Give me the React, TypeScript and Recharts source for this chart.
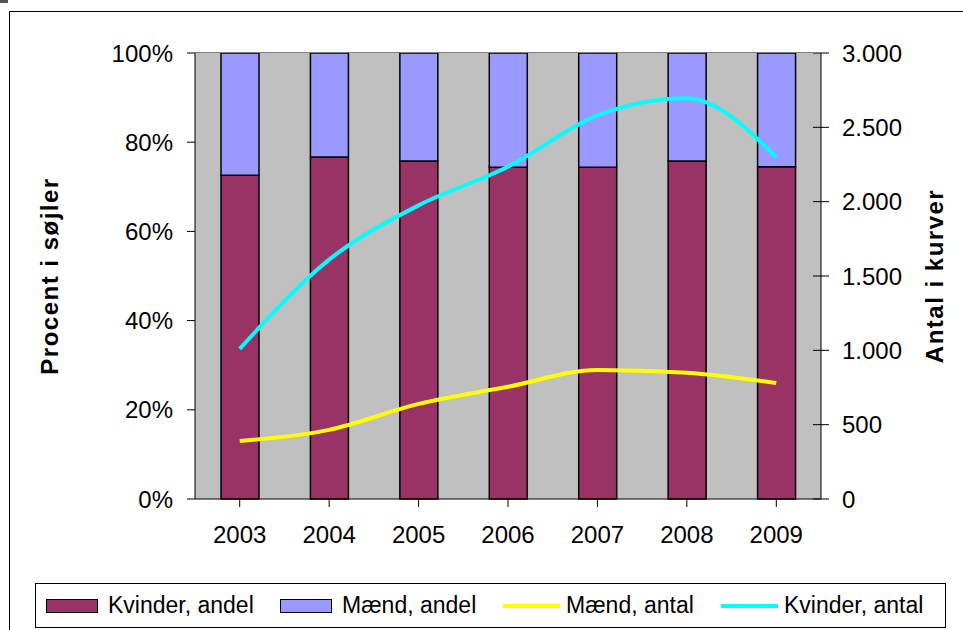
import { Bar, CartesianGrid, ComposedChart, Line, XAxis, YAxis } from "recharts";

const YEARS = ["2003", "2004", "2005", "2006", "2007", "2008", "2009"];
const KVINDER_ANDEL = [72.6, 76.7, 75.8, 74.4, 74.4, 75.8, 74.5];
const MAEND_ANDEL = [27.4, 23.3, 24.2, 25.6, 25.6, 24.2, 25.5];
const MAEND_ANTAL = [390, 465, 640, 755, 868, 850, 780];
const KVINDER_ANTAL = [1010, 1610, 1975, 2235, 2580, 2695, 2300];
const PCT_TICKS = [0, 20, 40, 60, 80, 100];
const ANTAL_TICKS = [0, 500, 1000, 1500, 2000, 2500, 3000];

const FONT = "'Liberation Sans', Arial, sans-serif";
const MAROON = "#993366";
const LAVENDER = "#9999FF";
const YELLOW = "#FFFF00";
const CYAN = "#00FFFF";

const data = YEARS.map((year, i) => ({
  year,
  kvAndel: KVINDER_ANDEL[i],
  mdAndel: MAEND_ANDEL[i],
  mdAntal: MAEND_ANTAL[i],
  kvAntal: KVINDER_ANTAL[i],
}));

const legendItems = [
  { label: "Kvinder, andel", color: MAROON, kind: "bar" },
  { label: "Mænd, andel", color: LAVENDER, kind: "bar" },
  { label: "Mænd, antal", color: YELLOW, kind: "line" },
  { label: "Kvinder, antal", color: CYAN, kind: "line" },
];

const fmtAntal = (v: number) =>
  v >= 1000 ? `${Math.floor(v / 1000)}.${String(v % 1000).padStart(3, "0")}` : String(v);

// right axis ticks cross the axis line, so draw them by hand
function RightTick(props: any) {
  const { x, y, payload } = props;
  const axisX = x - 21;
  return (
    <g>
      <line x1={axisX - 8} x2={axisX + 8} y1={y} y2={y} stroke="#000" />
      <text x={x} y={y} dy="0.355em" textAnchor="start" fill="#000" fontSize={24} fontFamily={FONT}>
        {fmtAntal(payload.value)}
      </text>
    </g>
  );
}

export default function App() {
  return (
    <div
      style={{
        position: "absolute",
        left: 0,
        top: 0,
        width: 963,
        height: 630,
        overflow: "hidden",
        background: "#fff",
        fontFamily: FONT,
      }}
    >
      <div style={{ position: "absolute", left: 0, top: 0, width: 8, height: 3, background: "#555" }} />
      <div
        style={{
          position: "absolute",
          left: 9,
          top: 11,
          width: 1000,
          height: 700,
          border: "1px solid #000",
        }}
      />
      <div style={{ position: "absolute", left: 0, top: 0 }}>
        <ComposedChart
          width={963}
          height={630}
          data={data}
          margin={{ top: 53, right: 0, left: 0, bottom: 0 }}
          barSize={38}
        >
          <CartesianGrid fill="#C0C0C0" horizontal={false} vertical={false} />
          <XAxis
            dataKey="year"
            height={131}
            tickSize={8}
            tickMargin={19}
            stroke="#000"
            tick={{ fill: "#000", fontSize: 24, fontFamily: FONT }}
            interval={0}
          />
          <YAxis
            yAxisId="left"
            width={195}
            domain={[0, 100]}
            ticks={PCT_TICKS}
            tickFormatter={(v: number) => `${v}%`}
            tickSize={8}
            tickMargin={14}
            stroke="#000"
            tick={{ fill: "#000", fontSize: 24, fontFamily: FONT }}
            label={{
              value: "Procent i søjler",
              angle: -90,
              position: "insideLeft",
              offset: 0,
              dx: 49,
              style: { fontSize: 24, fontWeight: "bold", fontFamily: FONT, fill: "#000", letterSpacing: 1.5, textAnchor: "middle" },
            }}
          />
          <YAxis
            yAxisId="right"
            orientation="right"
            width={142}
            domain={[0, 3000]}
            ticks={ANTAL_TICKS}
            tickLine={false}
            tickSize={8}
            tickMargin={13}
            stroke="#000"
            tick={<RightTick />}
            label={{
              value: "Antal i kurver",
              angle: -90,
              position: "insideRight",
              offset: 0,
              dx: -29,
              style: { fontSize: 24, fontWeight: "bold", fontFamily: FONT, fill: "#000", letterSpacing: 1.5, textAnchor: "middle" },
            }}
          />
          <Bar yAxisId="left" dataKey="kvAndel" stackId="a" fill={MAROON} stroke="#000" strokeWidth={1.5} isAnimationActive={false} />
          <Bar yAxisId="left" dataKey="mdAndel" stackId="a" fill={LAVENDER} stroke="#000" strokeWidth={1.5} isAnimationActive={false} />
          <Line yAxisId="right" dataKey="mdAntal" type="monotone" stroke={YELLOW} strokeWidth={4} dot={false} isAnimationActive={false} />
          <Line yAxisId="right" dataKey="kvAntal" type="monotone" stroke={CYAN} strokeWidth={4} dot={false} isAnimationActive={false} />
        </ComposedChart>
      </div>
      <div style={{ position: "absolute", left: 195, top: 52, width: 626, height: 1, background: "#808080" }} />
      <div
        style={{
          position: "absolute",
          left: 35,
          top: 583,
          width: 911,
          height: 45,
          border: "1px solid #000",
          boxSizing: "border-box",
        }}
      >
        {legendItems.map((it, i) => {
          const starts = [10, 244, 467, 685];
          return (
            <div
              key={it.label}
              style={{
                position: "absolute",
                left: starts[i],
                top: 0,
                height: 43,
                display: "flex",
                alignItems: "center",
                fontSize: 23,
                color: "#000",
                whiteSpace: "nowrap",
              }}
            >
              {it.kind === "bar" ? (
                <span
                  style={{
                    display: "inline-block",
                    width: 50,
                    height: 12,
                    background: it.color,
                    border: "1.5px solid #000",
                    marginRight: 10,
                  }}
                />
              ) : (
                <span
                  style={{
                    display: "inline-block",
                    width: 57,
                    height: 4,
                    background: it.color,
                    marginRight: 6,
                  }}
                />
              )}
              {it.label}
            </div>
          );
        })}
      </div>
    </div>
  );
}
